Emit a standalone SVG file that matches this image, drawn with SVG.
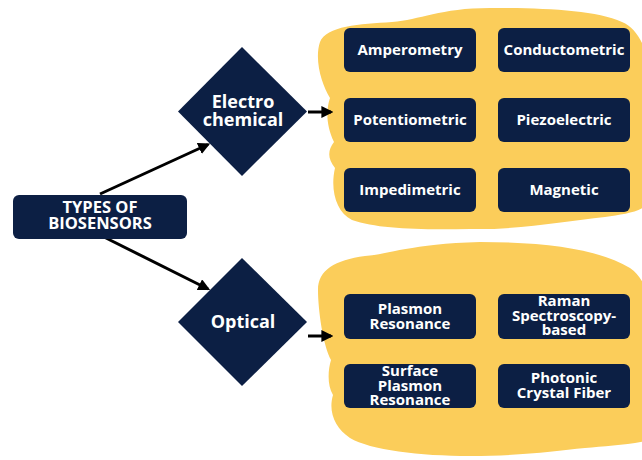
<svg xmlns="http://www.w3.org/2000/svg" width="642" height="460" viewBox="0 0 642 460">
<style>
.nv{fill:#0c1f44}
.blob{fill:#fbcd5a}
.t{font-family:"Open Sans","Liberation Sans",sans-serif;font-weight:bold;fill:#fff;text-anchor:middle}
.s{font-size:15px}
.m{font-size:16.5px}
.l{font-size:18px}
.c{stroke:#000;stroke-width:3;fill:none}
</style>
<defs>
<marker id="ah" viewBox="0 0 10 10" refX="8" refY="5" markerWidth="4" markerHeight="4" orient="auto" markerUnits="strokeWidth">
<path d="M0,0 L10,5 L0,10 z" fill="#000"/>
</marker>
</defs>
<rect width="642" height="460" fill="#fff"/>
<g id="blob-electro">
<path class="blob" d="M320 42 C326 26 360 24 392 22 C420 20 440 8 490 8 C545 8 595 10 622 22 C642 30 650 60 650 80 L650 200 C645 212 625 214 605 217 C565 221 520 230 470 229 C420 230 378 229 352 220 C336 212 330 190 335 168 C327 158 328 150 334 142 C326 125 326 110 330 98 C322 85 314 60 320 42 Z"/>
</g>
<g id="blob-optical">
<path class="blob" d="M318 290 C318 270 335 260 365 256 C390 254 410 244 480 242 C550 242 600 250 630 268 C645 278 650 300 650 310 L650 440 C630 445 605 446 585 448 C555 451 520 456 470 456 C420 456 370 450 350 438 C335 428 328 412 333 395 C327 385 328 370 331 360 C323 345 318 310 318 290 Z"/>
</g>
<g id="connectors">
<line class="c" x1="100" y1="194" x2="208" y2="144.5" marker-end="url(#ah)"/>
<line class="c" x1="100" y1="235" x2="208" y2="289" marker-end="url(#ah)"/>
<line class="c" x1="308" y1="112" x2="331" y2="112" marker-end="url(#ah)"/>
<line class="c" x1="308" y1="336" x2="331" y2="336" marker-end="url(#ah)"/>
</g>
<g id="root">
<rect class="nv" x="13" y="195" width="174" height="44" rx="6"/>
<text class="t m" x="100" y="213">TYPES OF</text>
<text class="t m" x="100" y="229">BIOSENSORS</text>
</g>
<g id="electrochemical">
<polygon class="nv" points="242,47 307,111.5 242,176 178,111.5"/>
<text class="t l" x="243" y="108">Electro</text>
<text class="t l" x="243" y="126">chemical</text>
</g>
<g id="optical">
<polygon class="nv" points="242,258 307,322 242,386 178,322"/>
<text class="t l" x="243" y="328">Optical</text>
</g>
<g id="amperometry">
<rect class="nv" x="344" y="28" width="132" height="44" rx="6"/>
<text class="t s" x="410" y="55">Amperometry</text>
</g>
<g id="conductometric">
<rect class="nv" x="498" y="28" width="132" height="44" rx="6"/>
<text class="t s" x="564" y="55">Conductometric</text>
</g>
<g id="potentiometric">
<rect class="nv" x="344" y="98" width="132" height="44" rx="6"/>
<text class="t s" x="410" y="125">Potentiometric</text>
</g>
<g id="piezoelectric">
<rect class="nv" x="498" y="98" width="132" height="44" rx="6"/>
<text class="t s" x="564" y="125">Piezoelectric</text>
</g>
<g id="impedimetric">
<rect class="nv" x="344" y="168" width="132" height="44" rx="6"/>
<text class="t s" x="410" y="195">Impedimetric</text>
</g>
<g id="magnetic">
<rect class="nv" x="498" y="168" width="132" height="44" rx="6"/>
<text class="t s" x="564" y="195">Magnetic</text>
</g>
<g id="plasmon-resonance">
<rect class="nv" x="344" y="294" width="132" height="45" rx="6"/>
<text class="t s" x="410" y="314">Plasmon</text>
<text class="t s" x="410" y="329">Resonance</text>
</g>
<g id="raman">
<rect class="nv" x="498" y="294" width="132" height="45" rx="6"/>
<text class="t s" x="564" y="306">Raman</text>
<text class="t s" x="564" y="321">Spectroscopy-</text>
<text class="t s" x="564" y="335">based</text>
</g>
<g id="surface-plasmon-resonance">
<rect class="nv" x="344" y="364" width="132" height="44" rx="6"/>
<text class="t s" x="410" y="376">Surface</text>
<text class="t s" x="410" y="391">Plasmon</text>
<text class="t s" x="410" y="405">Resonance</text>
</g>
<g id="photonic-crystal-fiber">
<rect class="nv" x="498" y="364" width="132" height="44" rx="6"/>
<text class="t s" x="564" y="383">Photonic</text>
<text class="t s" x="564" y="398">Crystal Fiber</text>
</g>
</svg>
